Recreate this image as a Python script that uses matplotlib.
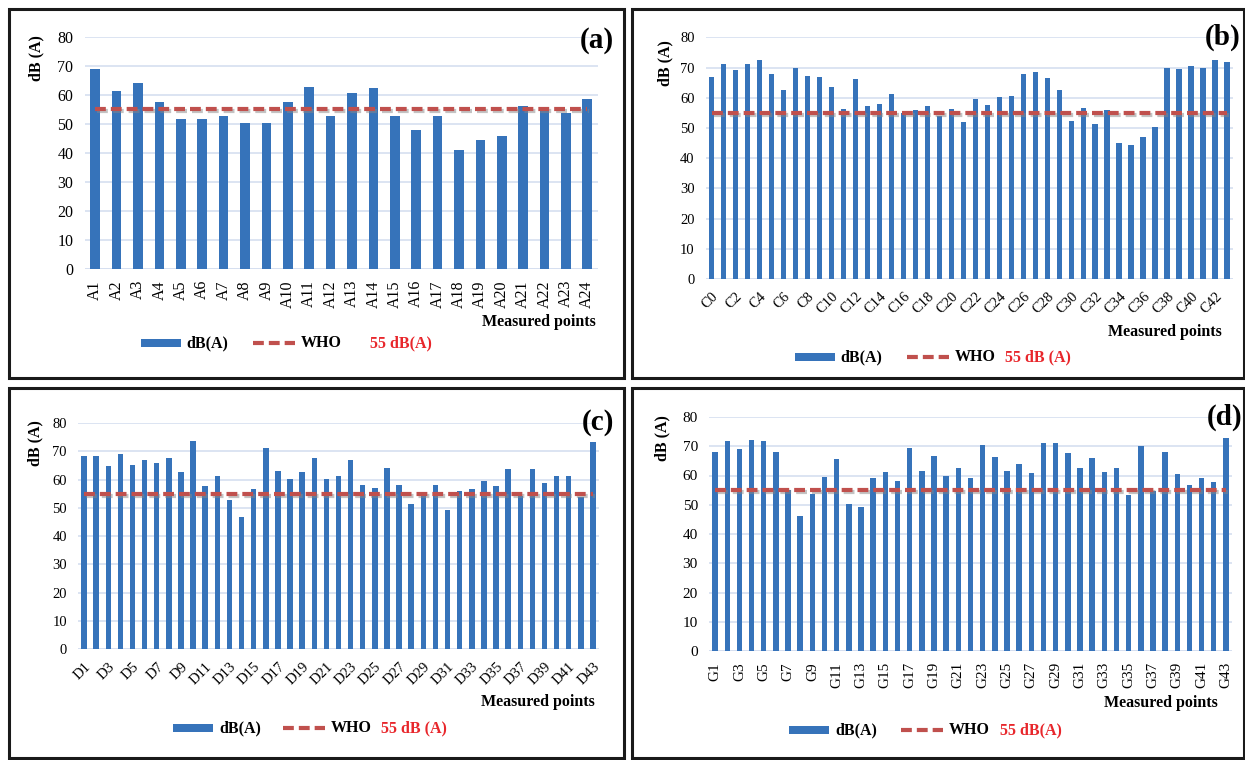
import matplotlib
matplotlib.use("Agg")
import matplotlib.pyplot as plt
import matplotlib.patheffects as pe
from matplotlib.patches import Rectangle
from matplotlib.lines import Line2D

# ---------------- data ----------------
cats_a = [f"A{i}" for i in range(1, 25)]
vals_a = [69.0, 61.3, 64.2, 57.6, 51.5, 51.8, 52.8, 50.2, 50.2, 57.6, 62.8, 52.8,
          60.7, 62.3, 52.6, 47.8, 52.6, 41.0, 44.3, 45.9, 56.0, 55.5, 53.8, 58.6]

cats_b = [f"C{i}" for i in range(0, 44)]
vals_b = [67.0, 71.1, 69.3, 71.1, 72.6, 68.0, 62.4, 69.8, 67.2, 66.9, 63.6, 56.2,
          66.1, 57.4, 57.9, 61.1, 54.9, 56.0, 57.2, 54.0, 56.4, 51.8, 59.7, 57.7,
          60.2, 60.7, 68.0, 68.5, 66.4, 62.4, 52.3, 56.6, 51.2, 55.8, 45.0, 44.3,
          47.1, 50.4, 70.0, 69.5, 70.5, 70.0, 72.6, 71.9]

cats_c = [f"D{i}" for i in range(1, 44)]
vals_c = [68.3, 68.3, 64.8, 68.9, 65.0, 67.0, 65.8, 67.7, 62.5, 73.6, 57.6, 61.1,
          52.9, 46.6, 56.8, 71.0, 62.9, 60.3, 62.5, 67.7, 60.1, 61.4, 66.9, 58.1,
          57.0, 64.2, 58.1, 51.2, 54.1, 58.1, 49.1, 55.9, 56.8, 59.6, 57.8, 63.8,
          54.2, 63.8, 58.6, 61.4, 61.4, 53.7, 73.3]

cats_d = [f"G{i}" for i in range(1, 44)]
vals_d = [68.2, 71.9, 68.9, 72.2, 71.7, 68.0, 54.9, 46.2, 53.8, 59.5, 65.8, 50.1,
          49.3, 59.3, 61.1, 58.2, 69.3, 61.7, 66.6, 59.9, 62.5, 59.0, 70.3, 66.4,
          61.7, 63.8, 60.8, 71.1, 71.1, 67.7, 62.6, 66.1, 61.1, 62.6, 53.3, 70.1,
          54.8, 68.0, 60.6, 56.6, 59.3, 57.9, 72.8]

who_limit = 55
y_ticks = [0, 10, 20, 30, 40, 50, 60, 70, 80]
panel_tags = ["(a)", "(b)", "(c)", "(d)"]
who_texts = ["55 dB(A)", "55 dB (A)", "55 dB (A)", "55 dB(A)"]

# ---------------- style ----------------
W, H = 1245, 760
BAR = "#3673ba"
RED = "#c0504d"
GRID = "#d5dff0"
SERIF = ["Liberation Serif", "DejaVu Serif"]
DASH = (2.6, 1.2)

fig = plt.figure(figsize=(W / 100, H / 100), dpi=100)
fig.patch.set_facecolor("white")


def rect(l, r, t, b):
    return [l / W, 1 - b / H, (r - l) / W, (b - t) / H]


def fx(x):
    return x / W


def fy(y):
    return 1 - y / H


panels = [
    dict(cats=cats_a, vals=vals_a, ax=(84.5, 598, 36.7, 269), frame=(9, 624, 9, 378),
         rot=90, step=1, mp=(596, 322), leg_y=343, leg=(141, 181, 186, 253, 295, 301, 370),
         tag=(614, 40), ylab=(36, 58), fs=11.5),
    dict(cats=cats_b, vals=vals_b, ax=(705.7, 1233, 37.3, 279), frame=(632, 1244, 9, 378),
         rot=45, step=2, mp=(1222, 332), leg_y=357, leg=(795, 835, 840, 907, 949, 955, 1005),
         tag=(1240, 37), ylab=(665, 63), fs=10.5),
    dict(cats=cats_c, vals=vals_c, ax=(78, 599, 423, 649), frame=(9, 624, 388, 758),
         rot=45, step=2, mp=(595, 702), leg_y=728, leg=(173, 213, 219, 283, 325, 331, 381),
         tag=(614, 423), ylab=(35, 443), fs=10.5),
    dict(cats=cats_d, vals=vals_d, ax=(709, 1232, 417, 651), frame=(632, 1244, 388, 758),
         rot=90, step=2, mp=(1218, 703), leg_y=730, leg=(789, 829, 835, 901, 943, 949, 1000),
         tag=(1242, 417), ylab=(662, 438), fs=11),
]

shadow = [pe.SimpleLineShadow(offset=(1.5, -1.5), shadow_color="#888888", alpha=0.5), pe.Normal()]

for i, p in enumerate(panels):
    # panel frame
    l, r, t, b = p["frame"]
    fig.add_artist(Rectangle((fx(l), fy(b)), (r - l) / W, (b - t) / H, transform=fig.transFigure,
                             fill=False, edgecolor="#1a1a1a", linewidth=2.2))
    ax = fig.add_axes(rect(*p["ax"]))
    n = len(p["cats"])
    x = list(range(n))
    ax.bar(x, p["vals"], width=0.45, color=BAR, zorder=2)
    ax.plot(x, [who_limit] * n, color=RED, linewidth=3.0, dashes=DASH, zorder=3,
            path_effects=shadow)
    ax.set_xlim(-0.5, n - 0.5)
    ax.set_ylim(0, 80)
    ax.set_yticks(y_ticks)
    ax.set_yticklabels([str(v) for v in y_ticks], fontfamily=SERIF, fontsize=p["fs"])
    ax.set_xticks(x[::p["step"]])
    if p["rot"] == 90:
        ax.set_xticklabels(p["cats"][::p["step"]], rotation=90, fontfamily=SERIF, fontsize=p["fs"],
                           ha="center", va="top")
    else:
        ax.set_xticklabels(p["cats"][::p["step"]], rotation=45, fontfamily=SERIF, fontsize=p["fs"],
                           ha="right", va="top", rotation_mode="anchor")
    ax.tick_params(axis="y", length=0, pad=8)
    ax.tick_params(axis="x", length=0, pad=8)
    ax.grid(axis="y", color=GRID, linewidth=1.2, zorder=0)
    ax.set_axisbelow(True)
    for s in ax.spines.values():
        s.set_visible(False)
    ax.axhline(0, color=GRID, linewidth=1.2, zorder=1)

    # labels
    fig.text(fx(p["ylab"][0]), fy(p["ylab"][1]), "dB (A)", rotation=90, ha="center", va="center",
             fontfamily=SERIF, fontweight="bold", fontsize=11.5)
    fig.text(fx(p["tag"][0]), fy(p["tag"][1]), panel_tags[i], ha="right", va="center",
             fontfamily=SERIF, fontweight="bold", fontsize=21)
    fig.text(fx(p["mp"][0]), fy(p["mp"][1]), "Measured points", ha="right", va="center",
             fontfamily=SERIF, fontweight="bold", fontsize=11.5)

    # legend
    pl, pr, tx1, dl, dr, tx2, tx3 = p["leg"]
    ly = p["leg_y"]
    fig.add_artist(Rectangle((fx(pl), fy(ly + 4)), (pr - pl) / W, 8 / H, transform=fig.transFigure,
                             facecolor=BAR, edgecolor="none"))
    fig.text(fx(tx1), fy(ly), "dB(A)", ha="left", va="center", fontfamily=SERIF,
             fontweight="bold", fontsize=11.5)
    fig.add_artist(Line2D([fx(dl), fx(dr)], [fy(ly), fy(ly)], transform=fig.transFigure,
                          color=RED, linewidth=3.0, dashes=DASH))
    fig.text(fx(tx2), fy(ly), "WHO", ha="left", va="center", fontfamily=SERIF,
             fontweight="bold", fontsize=11.5)
    fig.text(fx(tx3), fy(ly), who_texts[i], ha="left", va="center", fontfamily=SERIF,
             fontweight="bold", fontsize=11.5, color="#e8262b")

fig.savefig("out.png", dpi=100, facecolor="white")
